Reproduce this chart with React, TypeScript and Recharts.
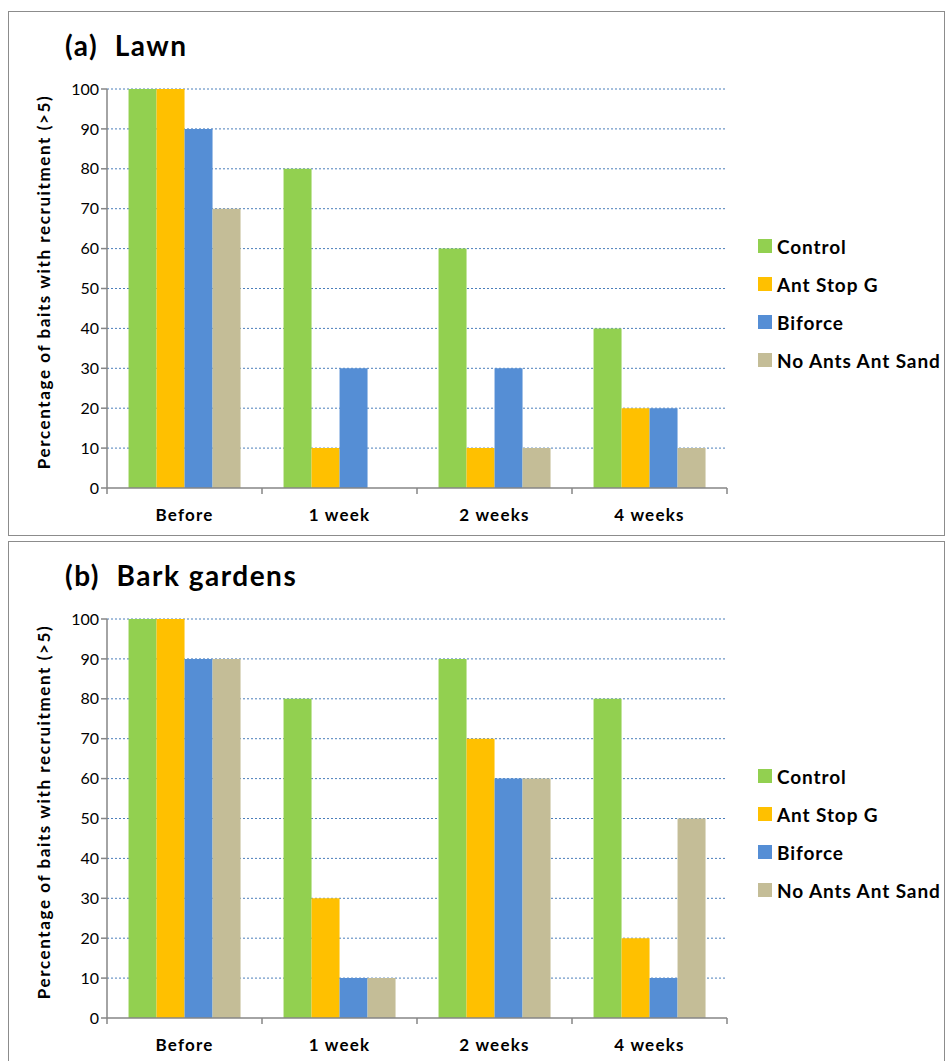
import React from "react";
import { BarChart, Bar, XAxis, YAxis, CartesianGrid } from "recharts";

const periods = ["Before", "1 week", "2 weeks", "4 weeks"];
const seriesNames = ["Control", "Ant Stop G", "Biforce", "No Ants Ant Sand"];
const seriesColors = ["#92D050", "#FFC000", "#558ED5", "#C4BD97"];
const yTicks = [0, 10, 20, 30, 40, 50, 60, 70, 80, 90, 100];

// (a) Lawn
const lawnControl = [100, 80, 60, 40];
const lawnAntStop = [100, 10, 10, 20];
const lawnBiforce = [90, 30, 30, 20];
const lawnNoAnts = [70, 0, 10, 10];

// (b) Bark gardens
const barkControl = [100, 80, 90, 80];
const barkAntStop = [100, 30, 70, 20];
const barkBiforce = [90, 10, 60, 10];
const barkNoAnts = [90, 10, 60, 50];

const keys = ["control", "antStop", "biforce", "noAnts"];

function buildRows(cols: number[][]) {
  return periods.map((p, i) => ({
    period: p,
    control: cols[0][i],
    antStop: cols[1][i],
    biforce: cols[2][i],
    noAnts: cols[3][i],
  }));
}

const lawnData = buildRows([lawnControl, lawnAntStop, lawnBiforce, lawnNoAnts]);
const barkData = buildRows([barkControl, barkAntStop, barkBiforce, barkNoAnts]);

const FONT = "Lato, 'Open Sans', sans-serif";
const AXIS = "#868686";
const CHART_W = 946;
const CHART_H = 537;
const MARGIN = { top: 89, right: 219, bottom: 9, left: 47 };
const BAND = (CHART_W - MARGIN.left - 60 - MARGIN.right) / periods.length;

const XTick = (props: any) => {
  const { x, y, payload, index } = props;
  const left = x - BAND / 2;
  return (
    <g>
      <line x1={left} y1={y - 8} x2={left} y2={y - 2} stroke={AXIS} strokeWidth={1.5} />
      {index === periods.length - 1 && (
        <line x1={left + BAND} y1={y - 8} x2={left + BAND} y2={y - 2} stroke={AXIS} strokeWidth={1.5} />
      )}
      <text
        x={x}
        y={y + 25}
        textAnchor="middle"
        fontFamily={FONT}
        fontWeight={700}
        fontSize={17}
        letterSpacing={1.2}
        fill="#000"
      >
        {payload.value}
      </text>
    </g>
  );
};

function Panel({ top, title, data }: { top: number; title: string; data: any[] }) {
  return (
    <div style={{ position: "absolute", left: 0, top, width: CHART_W, height: CHART_H }}>
      <div
        style={{
          position: "absolute",
          left: 8,
          top: 11,
          width: 937,
          height: 525,
          border: "1px solid #8c8c8c",
          boxSizing: "border-box",
        }}
      />
      <div
        style={{
          position: "absolute",
          left: 65,
          top: 28,
          fontFamily: FONT,
          fontWeight: 700,
          fontSize: 28,
          letterSpacing: 1.5,
          whiteSpace: "pre",
          color: "#000",
        }}
      >
        {title}
      </div>
      <div
        style={{
          position: "absolute",
          left: 43,
          top: 282,
          transform: "translate(-50%, -50%) rotate(-90deg)",
          fontFamily: FONT,
          fontWeight: 700,
          fontSize: 17,
          letterSpacing: 1.6,
          whiteSpace: "nowrap",
          color: "#000",
        }}
      >
        Percentage of baits with recruitment (&gt;5)
      </div>
      <div style={{ position: "absolute", left: 0, top: 0 }}>
        <BarChart
          width={CHART_W}
          height={CHART_H}
          data={data}
          margin={MARGIN}
          barGap={0}
          barCategoryGap="13.9%"
        >
          <CartesianGrid
            vertical={false}
            stroke="#4A7EBB"
            strokeDasharray="2 2"
            horizontalValues={yTicks.slice(1)}
          />
          <XAxis
            dataKey="period"
            stroke={AXIS}
            strokeWidth={1.5}
            tickLine={false}
            height={40}
            interval={0}
            tick={<XTick />}
          />
          <YAxis
            domain={[0, 100]}
            ticks={yTicks}
            interval={0}
            width={60}
            stroke={AXIS}
            strokeWidth={1.5}
            tickSize={6}
            tick={{ fill: "#000", fontSize: 16, fontFamily: FONT }}
          />
          {keys.map((k, i) => (
            <Bar key={k} dataKey={k} name={seriesNames[i]} fill={seriesColors[i]} isAnimationActive={false} />
          ))}
        </BarChart>
      </div>
      <div style={{ position: "absolute", left: 758, top: 227 }}>
        {seriesNames.map((n, i) => (
          <div key={n} style={{ display: "flex", alignItems: "center", height: 38 }}>
            <div style={{ width: 14, height: 14, background: seriesColors[i], marginRight: 5 }} />
            <span
              style={{ fontFamily: FONT, fontWeight: 700, fontSize: 19, letterSpacing: 0.9, color: "#000" }}
            >
              {n}
            </span>
          </div>
        ))}
      </div>
    </div>
  );
}

export default function App() {
  return (
    <div
      style={{
        position: "absolute",
        left: 0,
        top: 0,
        width: 946,
        height: 1061,
        overflow: "hidden",
        background: "#fff",
      }}
    >
      <Panel top={0} title="(a)  Lawn" data={lawnData} />
      <Panel top={530} title="(b)  Bark gardens" data={barkData} />
    </div>
  );
}
